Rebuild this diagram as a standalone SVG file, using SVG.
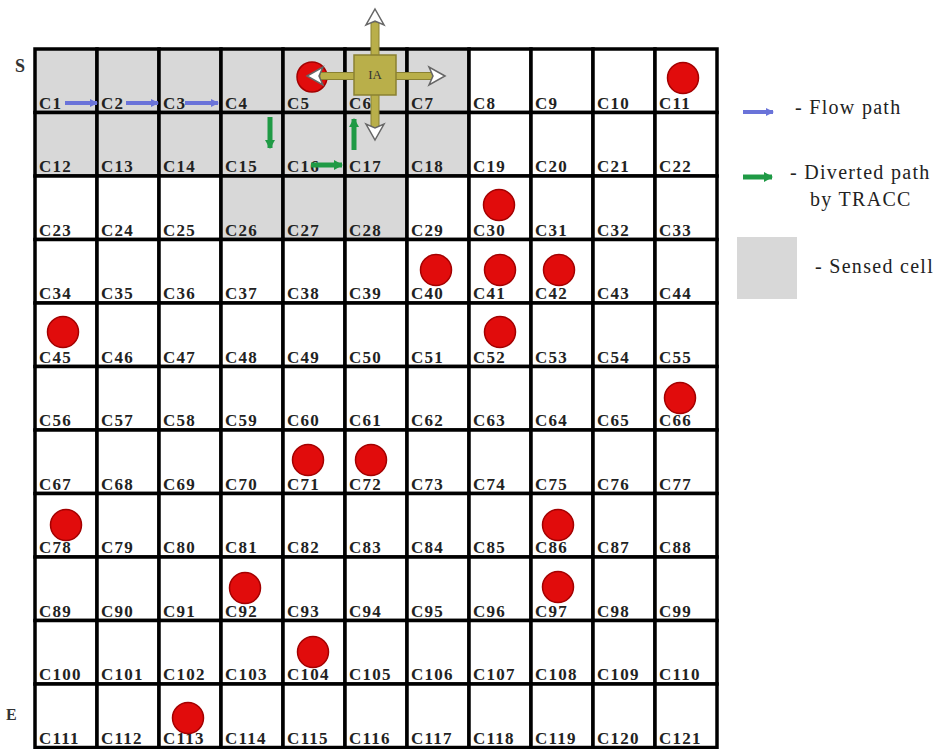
<svg xmlns="http://www.w3.org/2000/svg" width="951" height="749" viewBox="0 0 951 749">
<style>
.cell{stroke:#000;stroke-width:3.5;fill:#fff}
.sensed{fill:#d8d8d8}
.lbl{font-family:"Liberation Serif",serif;font-weight:bold;font-size:17px;letter-spacing:1.2px;fill:#222}
.obs{fill:#e10c0c;stroke:#a30000;stroke-width:1.5}
.leg{font-family:"Liberation Serif",serif;font-size:20px;letter-spacing:1.3px;fill:#222}
.side{font-family:"Liberation Serif",serif;font-weight:bold;fill:#333}
.blue{stroke:#6a73d9;stroke-width:4;fill:none}
.green{stroke:#1f9a45;stroke-width:5;fill:none}
.shaft{fill:#b9af4a;stroke:#8a8132;stroke-width:1}
.head{fill:#fff;stroke:#666;stroke-width:1.5}
</style>
<defs>
<marker id="mb" markerUnits="userSpaceOnUse" markerWidth="10" markerHeight="10" refX="7" refY="5" orient="auto"><path d="M0,1 L8,5 L0,9 Z" fill="#6a73d9"/></marker>
<marker id="mg" markerUnits="userSpaceOnUse" markerWidth="12" markerHeight="12" refX="8" refY="6" orient="auto"><path d="M0,1 L9,6 L0,11 Z" fill="#1f9a45"/></marker>
</defs>
<rect width="951" height="749" fill="#fff"/>
<text class="side" x="15" y="72" font-size="18">S</text>
<text class="side" x="6" y="720" font-size="16">E</text>
<g id="grid">
<g id="C1"><rect class="cell sensed" x="35" y="49" width="62" height="63.5"/><text class="lbl" x="39" y="108.5">C1</text></g>
<g id="C2"><rect class="cell sensed" x="97" y="49" width="62" height="63.5"/><text class="lbl" x="101" y="108.5">C2</text></g>
<g id="C3"><rect class="cell sensed" x="159" y="49" width="62" height="63.5"/><text class="lbl" x="163" y="108.5">C3</text></g>
<g id="C4"><rect class="cell sensed" x="221" y="49" width="62" height="63.5"/><text class="lbl" x="225" y="108.5">C4</text></g>
<g id="C5"><rect class="cell sensed" x="283" y="49" width="62" height="63.5"/><text class="lbl" x="287" y="108.5">C5</text></g>
<g id="C6"><rect class="cell sensed" x="345" y="49" width="62" height="63.5"/><text class="lbl" x="349" y="108.5">C6</text></g>
<g id="C7"><rect class="cell sensed" x="407" y="49" width="62" height="63.5"/><text class="lbl" x="411" y="108.5">C7</text></g>
<g id="C8"><rect class="cell" x="469" y="49" width="62" height="63.5"/><text class="lbl" x="473" y="108.5">C8</text></g>
<g id="C9"><rect class="cell" x="531" y="49" width="62" height="63.5"/><text class="lbl" x="535" y="108.5">C9</text></g>
<g id="C10"><rect class="cell" x="593" y="49" width="62" height="63.5"/><text class="lbl" x="597" y="108.5">C10</text></g>
<g id="C11"><rect class="cell" x="655" y="49" width="62" height="63.5"/><text class="lbl" x="659" y="108.5">C11</text></g>
<g id="C12"><rect class="cell sensed" x="35" y="112.5" width="62" height="63.5"/><text class="lbl" x="39" y="172">C12</text></g>
<g id="C13"><rect class="cell sensed" x="97" y="112.5" width="62" height="63.5"/><text class="lbl" x="101" y="172">C13</text></g>
<g id="C14"><rect class="cell sensed" x="159" y="112.5" width="62" height="63.5"/><text class="lbl" x="163" y="172">C14</text></g>
<g id="C15"><rect class="cell sensed" x="221" y="112.5" width="62" height="63.5"/><text class="lbl" x="225" y="172">C15</text></g>
<g id="C16"><rect class="cell sensed" x="283" y="112.5" width="62" height="63.5"/><text class="lbl" x="287" y="172">C16</text></g>
<g id="C17"><rect class="cell sensed" x="345" y="112.5" width="62" height="63.5"/><text class="lbl" x="349" y="172">C17</text></g>
<g id="C18"><rect class="cell sensed" x="407" y="112.5" width="62" height="63.5"/><text class="lbl" x="411" y="172">C18</text></g>
<g id="C19"><rect class="cell" x="469" y="112.5" width="62" height="63.5"/><text class="lbl" x="473" y="172">C19</text></g>
<g id="C20"><rect class="cell" x="531" y="112.5" width="62" height="63.5"/><text class="lbl" x="535" y="172">C20</text></g>
<g id="C21"><rect class="cell" x="593" y="112.5" width="62" height="63.5"/><text class="lbl" x="597" y="172">C21</text></g>
<g id="C22"><rect class="cell" x="655" y="112.5" width="62" height="63.5"/><text class="lbl" x="659" y="172">C22</text></g>
<g id="C23"><rect class="cell" x="35" y="176" width="62" height="63.5"/><text class="lbl" x="39" y="235.5">C23</text></g>
<g id="C24"><rect class="cell" x="97" y="176" width="62" height="63.5"/><text class="lbl" x="101" y="235.5">C24</text></g>
<g id="C25"><rect class="cell" x="159" y="176" width="62" height="63.5"/><text class="lbl" x="163" y="235.5">C25</text></g>
<g id="C26"><rect class="cell sensed" x="221" y="176" width="62" height="63.5"/><text class="lbl" x="225" y="235.5">C26</text></g>
<g id="C27"><rect class="cell sensed" x="283" y="176" width="62" height="63.5"/><text class="lbl" x="287" y="235.5">C27</text></g>
<g id="C28"><rect class="cell sensed" x="345" y="176" width="62" height="63.5"/><text class="lbl" x="349" y="235.5">C28</text></g>
<g id="C29"><rect class="cell" x="407" y="176" width="62" height="63.5"/><text class="lbl" x="411" y="235.5">C29</text></g>
<g id="C30"><rect class="cell" x="469" y="176" width="62" height="63.5"/><text class="lbl" x="473" y="235.5">C30</text></g>
<g id="C31"><rect class="cell" x="531" y="176" width="62" height="63.5"/><text class="lbl" x="535" y="235.5">C31</text></g>
<g id="C32"><rect class="cell" x="593" y="176" width="62" height="63.5"/><text class="lbl" x="597" y="235.5">C32</text></g>
<g id="C33"><rect class="cell" x="655" y="176" width="62" height="63.5"/><text class="lbl" x="659" y="235.5">C33</text></g>
<g id="C34"><rect class="cell" x="35" y="239.5" width="62" height="63.5"/><text class="lbl" x="39" y="299">C34</text></g>
<g id="C35"><rect class="cell" x="97" y="239.5" width="62" height="63.5"/><text class="lbl" x="101" y="299">C35</text></g>
<g id="C36"><rect class="cell" x="159" y="239.5" width="62" height="63.5"/><text class="lbl" x="163" y="299">C36</text></g>
<g id="C37"><rect class="cell" x="221" y="239.5" width="62" height="63.5"/><text class="lbl" x="225" y="299">C37</text></g>
<g id="C38"><rect class="cell" x="283" y="239.5" width="62" height="63.5"/><text class="lbl" x="287" y="299">C38</text></g>
<g id="C39"><rect class="cell" x="345" y="239.5" width="62" height="63.5"/><text class="lbl" x="349" y="299">C39</text></g>
<g id="C40"><rect class="cell" x="407" y="239.5" width="62" height="63.5"/><text class="lbl" x="411" y="299">C40</text></g>
<g id="C41"><rect class="cell" x="469" y="239.5" width="62" height="63.5"/><text class="lbl" x="473" y="299">C41</text></g>
<g id="C42"><rect class="cell" x="531" y="239.5" width="62" height="63.5"/><text class="lbl" x="535" y="299">C42</text></g>
<g id="C43"><rect class="cell" x="593" y="239.5" width="62" height="63.5"/><text class="lbl" x="597" y="299">C43</text></g>
<g id="C44"><rect class="cell" x="655" y="239.5" width="62" height="63.5"/><text class="lbl" x="659" y="299">C44</text></g>
<g id="C45"><rect class="cell" x="35" y="303" width="62" height="63.5"/><text class="lbl" x="39" y="362.5">C45</text></g>
<g id="C46"><rect class="cell" x="97" y="303" width="62" height="63.5"/><text class="lbl" x="101" y="362.5">C46</text></g>
<g id="C47"><rect class="cell" x="159" y="303" width="62" height="63.5"/><text class="lbl" x="163" y="362.5">C47</text></g>
<g id="C48"><rect class="cell" x="221" y="303" width="62" height="63.5"/><text class="lbl" x="225" y="362.5">C48</text></g>
<g id="C49"><rect class="cell" x="283" y="303" width="62" height="63.5"/><text class="lbl" x="287" y="362.5">C49</text></g>
<g id="C50"><rect class="cell" x="345" y="303" width="62" height="63.5"/><text class="lbl" x="349" y="362.5">C50</text></g>
<g id="C51"><rect class="cell" x="407" y="303" width="62" height="63.5"/><text class="lbl" x="411" y="362.5">C51</text></g>
<g id="C52"><rect class="cell" x="469" y="303" width="62" height="63.5"/><text class="lbl" x="473" y="362.5">C52</text></g>
<g id="C53"><rect class="cell" x="531" y="303" width="62" height="63.5"/><text class="lbl" x="535" y="362.5">C53</text></g>
<g id="C54"><rect class="cell" x="593" y="303" width="62" height="63.5"/><text class="lbl" x="597" y="362.5">C54</text></g>
<g id="C55"><rect class="cell" x="655" y="303" width="62" height="63.5"/><text class="lbl" x="659" y="362.5">C55</text></g>
<g id="C56"><rect class="cell" x="35" y="366.5" width="62" height="63.5"/><text class="lbl" x="39" y="426">C56</text></g>
<g id="C57"><rect class="cell" x="97" y="366.5" width="62" height="63.5"/><text class="lbl" x="101" y="426">C57</text></g>
<g id="C58"><rect class="cell" x="159" y="366.5" width="62" height="63.5"/><text class="lbl" x="163" y="426">C58</text></g>
<g id="C59"><rect class="cell" x="221" y="366.5" width="62" height="63.5"/><text class="lbl" x="225" y="426">C59</text></g>
<g id="C60"><rect class="cell" x="283" y="366.5" width="62" height="63.5"/><text class="lbl" x="287" y="426">C60</text></g>
<g id="C61"><rect class="cell" x="345" y="366.5" width="62" height="63.5"/><text class="lbl" x="349" y="426">C61</text></g>
<g id="C62"><rect class="cell" x="407" y="366.5" width="62" height="63.5"/><text class="lbl" x="411" y="426">C62</text></g>
<g id="C63"><rect class="cell" x="469" y="366.5" width="62" height="63.5"/><text class="lbl" x="473" y="426">C63</text></g>
<g id="C64"><rect class="cell" x="531" y="366.5" width="62" height="63.5"/><text class="lbl" x="535" y="426">C64</text></g>
<g id="C65"><rect class="cell" x="593" y="366.5" width="62" height="63.5"/><text class="lbl" x="597" y="426">C65</text></g>
<g id="C66"><rect class="cell" x="655" y="366.5" width="62" height="63.5"/><text class="lbl" x="659" y="426">C66</text></g>
<g id="C67"><rect class="cell" x="35" y="430" width="62" height="63.5"/><text class="lbl" x="39" y="489.5">C67</text></g>
<g id="C68"><rect class="cell" x="97" y="430" width="62" height="63.5"/><text class="lbl" x="101" y="489.5">C68</text></g>
<g id="C69"><rect class="cell" x="159" y="430" width="62" height="63.5"/><text class="lbl" x="163" y="489.5">C69</text></g>
<g id="C70"><rect class="cell" x="221" y="430" width="62" height="63.5"/><text class="lbl" x="225" y="489.5">C70</text></g>
<g id="C71"><rect class="cell" x="283" y="430" width="62" height="63.5"/><text class="lbl" x="287" y="489.5">C71</text></g>
<g id="C72"><rect class="cell" x="345" y="430" width="62" height="63.5"/><text class="lbl" x="349" y="489.5">C72</text></g>
<g id="C73"><rect class="cell" x="407" y="430" width="62" height="63.5"/><text class="lbl" x="411" y="489.5">C73</text></g>
<g id="C74"><rect class="cell" x="469" y="430" width="62" height="63.5"/><text class="lbl" x="473" y="489.5">C74</text></g>
<g id="C75"><rect class="cell" x="531" y="430" width="62" height="63.5"/><text class="lbl" x="535" y="489.5">C75</text></g>
<g id="C76"><rect class="cell" x="593" y="430" width="62" height="63.5"/><text class="lbl" x="597" y="489.5">C76</text></g>
<g id="C77"><rect class="cell" x="655" y="430" width="62" height="63.5"/><text class="lbl" x="659" y="489.5">C77</text></g>
<g id="C78"><rect class="cell" x="35" y="493.5" width="62" height="63.5"/><text class="lbl" x="39" y="553">C78</text></g>
<g id="C79"><rect class="cell" x="97" y="493.5" width="62" height="63.5"/><text class="lbl" x="101" y="553">C79</text></g>
<g id="C80"><rect class="cell" x="159" y="493.5" width="62" height="63.5"/><text class="lbl" x="163" y="553">C80</text></g>
<g id="C81"><rect class="cell" x="221" y="493.5" width="62" height="63.5"/><text class="lbl" x="225" y="553">C81</text></g>
<g id="C82"><rect class="cell" x="283" y="493.5" width="62" height="63.5"/><text class="lbl" x="287" y="553">C82</text></g>
<g id="C83"><rect class="cell" x="345" y="493.5" width="62" height="63.5"/><text class="lbl" x="349" y="553">C83</text></g>
<g id="C84"><rect class="cell" x="407" y="493.5" width="62" height="63.5"/><text class="lbl" x="411" y="553">C84</text></g>
<g id="C85"><rect class="cell" x="469" y="493.5" width="62" height="63.5"/><text class="lbl" x="473" y="553">C85</text></g>
<g id="C86"><rect class="cell" x="531" y="493.5" width="62" height="63.5"/><text class="lbl" x="535" y="553">C86</text></g>
<g id="C87"><rect class="cell" x="593" y="493.5" width="62" height="63.5"/><text class="lbl" x="597" y="553">C87</text></g>
<g id="C88"><rect class="cell" x="655" y="493.5" width="62" height="63.5"/><text class="lbl" x="659" y="553">C88</text></g>
<g id="C89"><rect class="cell" x="35" y="557" width="62" height="63.5"/><text class="lbl" x="39" y="616.5">C89</text></g>
<g id="C90"><rect class="cell" x="97" y="557" width="62" height="63.5"/><text class="lbl" x="101" y="616.5">C90</text></g>
<g id="C91"><rect class="cell" x="159" y="557" width="62" height="63.5"/><text class="lbl" x="163" y="616.5">C91</text></g>
<g id="C92"><rect class="cell" x="221" y="557" width="62" height="63.5"/><text class="lbl" x="225" y="616.5">C92</text></g>
<g id="C93"><rect class="cell" x="283" y="557" width="62" height="63.5"/><text class="lbl" x="287" y="616.5">C93</text></g>
<g id="C94"><rect class="cell" x="345" y="557" width="62" height="63.5"/><text class="lbl" x="349" y="616.5">C94</text></g>
<g id="C95"><rect class="cell" x="407" y="557" width="62" height="63.5"/><text class="lbl" x="411" y="616.5">C95</text></g>
<g id="C96"><rect class="cell" x="469" y="557" width="62" height="63.5"/><text class="lbl" x="473" y="616.5">C96</text></g>
<g id="C97"><rect class="cell" x="531" y="557" width="62" height="63.5"/><text class="lbl" x="535" y="616.5">C97</text></g>
<g id="C98"><rect class="cell" x="593" y="557" width="62" height="63.5"/><text class="lbl" x="597" y="616.5">C98</text></g>
<g id="C99"><rect class="cell" x="655" y="557" width="62" height="63.5"/><text class="lbl" x="659" y="616.5">C99</text></g>
<g id="C100"><rect class="cell" x="35" y="620.5" width="62" height="63.5"/><text class="lbl" x="39" y="680">C100</text></g>
<g id="C101"><rect class="cell" x="97" y="620.5" width="62" height="63.5"/><text class="lbl" x="101" y="680">C101</text></g>
<g id="C102"><rect class="cell" x="159" y="620.5" width="62" height="63.5"/><text class="lbl" x="163" y="680">C102</text></g>
<g id="C103"><rect class="cell" x="221" y="620.5" width="62" height="63.5"/><text class="lbl" x="225" y="680">C103</text></g>
<g id="C104"><rect class="cell" x="283" y="620.5" width="62" height="63.5"/><text class="lbl" x="287" y="680">C104</text></g>
<g id="C105"><rect class="cell" x="345" y="620.5" width="62" height="63.5"/><text class="lbl" x="349" y="680">C105</text></g>
<g id="C106"><rect class="cell" x="407" y="620.5" width="62" height="63.5"/><text class="lbl" x="411" y="680">C106</text></g>
<g id="C107"><rect class="cell" x="469" y="620.5" width="62" height="63.5"/><text class="lbl" x="473" y="680">C107</text></g>
<g id="C108"><rect class="cell" x="531" y="620.5" width="62" height="63.5"/><text class="lbl" x="535" y="680">C108</text></g>
<g id="C109"><rect class="cell" x="593" y="620.5" width="62" height="63.5"/><text class="lbl" x="597" y="680">C109</text></g>
<g id="C110"><rect class="cell" x="655" y="620.5" width="62" height="63.5"/><text class="lbl" x="659" y="680">C110</text></g>
<g id="C111"><rect class="cell" x="35" y="684" width="62" height="63.5"/><text class="lbl" x="39" y="743.5">C111</text></g>
<g id="C112"><rect class="cell" x="97" y="684" width="62" height="63.5"/><text class="lbl" x="101" y="743.5">C112</text></g>
<g id="C113"><rect class="cell" x="159" y="684" width="62" height="63.5"/><text class="lbl" x="163" y="743.5">C113</text></g>
<g id="C114"><rect class="cell" x="221" y="684" width="62" height="63.5"/><text class="lbl" x="225" y="743.5">C114</text></g>
<g id="C115"><rect class="cell" x="283" y="684" width="62" height="63.5"/><text class="lbl" x="287" y="743.5">C115</text></g>
<g id="C116"><rect class="cell" x="345" y="684" width="62" height="63.5"/><text class="lbl" x="349" y="743.5">C116</text></g>
<g id="C117"><rect class="cell" x="407" y="684" width="62" height="63.5"/><text class="lbl" x="411" y="743.5">C117</text></g>
<g id="C118"><rect class="cell" x="469" y="684" width="62" height="63.5"/><text class="lbl" x="473" y="743.5">C118</text></g>
<g id="C119"><rect class="cell" x="531" y="684" width="62" height="63.5"/><text class="lbl" x="535" y="743.5">C119</text></g>
<g id="C120"><rect class="cell" x="593" y="684" width="62" height="63.5"/><text class="lbl" x="597" y="743.5">C120</text></g>
<g id="C121"><rect class="cell" x="655" y="684" width="62" height="63.5"/><text class="lbl" x="659" y="743.5">C121</text></g>
</g>
<g id="obstacles">
<circle class="obs" cx="312" cy="77" r="15"/>
<circle class="obs" cx="683" cy="78" r="15.5"/>
<circle class="obs" cx="499" cy="205" r="15.5"/>
<circle class="obs" cx="436" cy="270" r="15.5"/>
<circle class="obs" cx="500" cy="270" r="15.5"/>
<circle class="obs" cx="559" cy="270" r="15.5"/>
<circle class="obs" cx="63" cy="332" r="15.5"/>
<circle class="obs" cx="500" cy="332" r="15.5"/>
<circle class="obs" cx="680" cy="398" r="15.5"/>
<circle class="obs" cx="308" cy="460" r="15.5"/>
<circle class="obs" cx="371" cy="460" r="15.5"/>
<circle class="obs" cx="66" cy="525" r="15.5"/>
<circle class="obs" cx="558" cy="525" r="15.5"/>
<circle class="obs" cx="245" cy="588" r="15.5"/>
<circle class="obs" cx="558" cy="587" r="15.5"/>
<circle class="obs" cx="313" cy="652" r="15.5"/>
<circle class="obs" cx="188" cy="718" r="15.5"/>
</g>
<g id="connectors">
<line class="blue" x1="65" y1="103" x2="97" y2="103" marker-end="url(#mb)"/>
<line class="blue" x1="126" y1="103" x2="158" y2="103" marker-end="url(#mb)"/>
<line class="blue" x1="185" y1="103" x2="218" y2="103" marker-end="url(#mb)"/>
<line class="green" x1="270" y1="117" x2="270" y2="148" marker-end="url(#mg)"/>
<line class="green" x1="354" y1="150" x2="354" y2="119" marker-end="url(#mg)"/>
<line class="green" x1="311" y1="165" x2="342" y2="165" marker-end="url(#mg)"/>
</g>
<g id="IA">
<rect class="shaft" x="371" y="22" width="8" height="106"/>
<rect class="shaft" x="320" y="72.5" width="113" height="7"/>
<rect x="354" y="55" width="42" height="40" fill="#b9af4a" stroke="#8a8132" stroke-width="1.5"/>
<text x="375" y="79" text-anchor="middle" font-family="Liberation Serif, serif" font-size="13" fill="#333">IA</text>
<path class="head" d="M375,9 L384,25 L375,21 L366,25 Z"/>
<path class="head" d="M375,140 L384,124 L375,128 L366,124 Z"/>
<path class="head" d="M445,76 L429,67 L433,76 L429,85 Z"/>
<path class="head" d="M307,76 L323,67 L319,76 L323,85 Z"/>
</g>
<g id="legend">
<line class="blue" x1="743" y1="112" x2="773" y2="112" marker-end="url(#mb)"/>
<text class="leg" x="795" y="114">- Flow path</text>
<line class="green" x1="743" y1="177" x2="772" y2="177" marker-end="url(#mg)"/>
<text class="leg" x="790" y="179">- Diverted path</text>
<text class="leg" x="810" y="206">by TRACC</text>
<rect x="737" y="237" width="60" height="62" fill="#d8d8d8"/>
<text class="leg" x="815" y="273">- Sensed cell</text>
</g>
</svg>
